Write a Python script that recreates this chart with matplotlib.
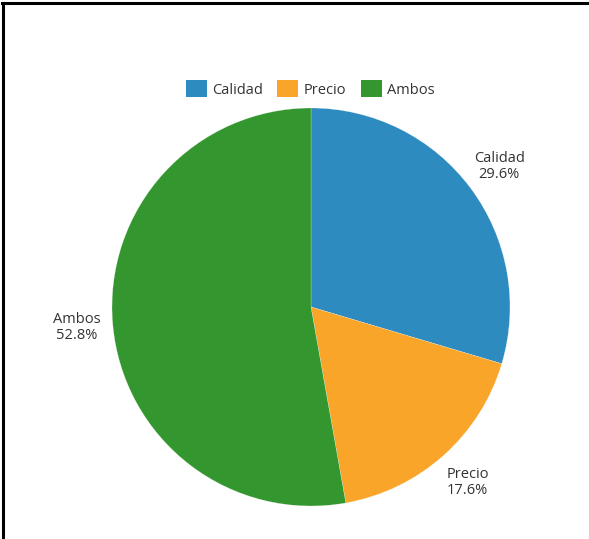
import matplotlib.pyplot as plt
from matplotlib.lines import Line2D
from matplotlib.patches import Patch

# Shares of respondents by what drives their choice
labels = ["Calidad", "Precio", "Ambos"]
shares = [29.6, 17.6, 52.8]
colors = ["#2E8BBF", "#F9A52A", "#33962E"]

W, H = 589, 539
fig = plt.figure(figsize=(W / 100, H / 100), dpi=100)
plt.rcParams['font.family'] = ['Open Sans', 'DejaVu Sans']

# pie centre and radius in pixels
cx, cy, r = 311, 307, 199
ax = fig.add_axes([(cx - r) / W, (H - cy - r) / H, 2 * r / W, 2 * r / H])

wedges, texts = ax.pie(
    shares,
    labels=[f"{l}\n{s:.1f}%" for l, s in zip(labels, shares)],
    colors=colors,
    startangle=90,
    counterclock=False,
    labeldistance=1.18,
    wedgeprops=dict(edgecolor="white", linewidth=0.15),
    textprops=dict(fontsize=10.5, color="#333333"),
)
for t in texts:
    t.set_ha("center")
    t.set_va("center")
    t.set_linespacing(1.1)

ax.set_xlim(-1, 1)
ax.set_ylim(-1, 1)
ax.set_aspect("equal")
ax.axis("off")

handles = [Patch(facecolor=c, edgecolor="none") for c in colors]
fig.legend(handles, labels, loc="center", bbox_to_anchor=(310 / W, 1 - 89 / H),
           ncol=3, frameon=False, fontsize=10.5, handlelength=1.45, handleheight=1.35,
           handletextpad=0.35, columnspacing=1.0, labelcolor="#333333")

# frame lines along the top and left edges
fig.add_artist(Line2D([2 / W, 1], [1 - 3 / H, 1 - 3 / H], transform=fig.transFigure,
                      color="black", linewidth=2.2))
fig.add_artist(Line2D([3 / W, 3 / W], [0, 1 - 3 / H], transform=fig.transFigure,
                      color="black", linewidth=2.2))

fig.savefig("out.png", dpi=100)
